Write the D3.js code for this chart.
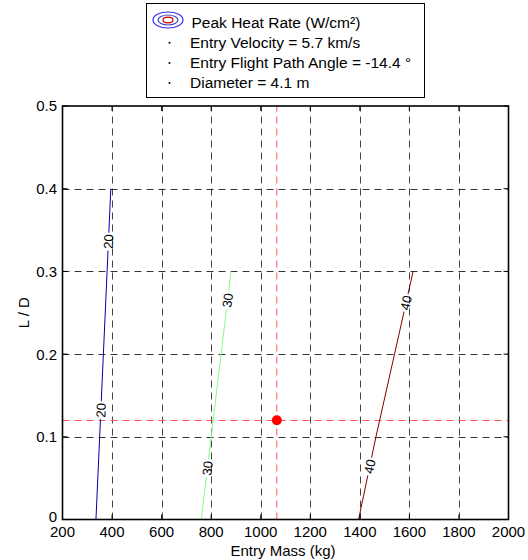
<!DOCTYPE html>
<html>
<head>
<meta charset="utf-8">
<script src="https://cdn.jsdelivr.net/npm/d3@7"></script>
<style>
  body { margin: 0; background: #fff; }
  svg { display: block; font-family: "Liberation Sans", Arial, sans-serif; }
</style>
</head>
<body>
<svg id="chart" width="528" height="560"></svg>
<script>
// ---- data ----
const xTicks = [200, 400, 600, 800, 1000, 1200, 1400, 1600, 1800, 2000];
const yTicks = [0, 0.1, 0.2, 0.3, 0.4, 0.5];
const yTickLabels = ["0", "0.1", "0.2", "0.3", "0.4", "0.5"];

const contour20LD   = [0, 0.1, 0.2, 0.3, 0.4];
const contour20Mass = [335, 350, 365, 380, 395];
const contour30LD   = [0, 0.1, 0.2, 0.3];
const contour30Mass = [760, 800, 840, 880];
const contour40LD   = [0, 0.1, 0.2, 0.3];
const contour40Mass = [1395, 1465, 1540, 1615];

const contourLevels = [20, 30, 40];
const contourColors = ["#0000a8", "#80ff80", "#800000"];
const contourLabelLD = [[0.132, 0.336], [0.062, 0.265], [0.064, 0.262]];

const designMass = 1065;
const designLD = 0.12;

const legendLines = [
  "Peak Heat Rate (W/cm²)",
  "Entry Velocity = 5.7 km/s",
  "Entry Flight Path Angle = -14.4 °",
  "Diameter = 4.1 m"
];

// ---- layout ----
const svg = d3.select("#chart");
const x = d3.scaleLinear().domain([200, 2000]).range([62.5, 508.5]);
const y = d3.scaleLinear().domain([0, 0.5]).range([519.5, 106]);
const dash = "7,5";
const fs = 15;

// grid
const grid = svg.append("g");
grid.selectAll(".vg").data(xTicks.slice(1, -1)).enter().append("line")
  .attr("x1", d => Math.round(x(d)) + 0.5).attr("x2", d => Math.round(x(d)) + 0.5)
  .attr("y1", y(0)).attr("y2", y(0.5))
  .attr("stroke", "#444").attr("stroke-dasharray", dash);
grid.selectAll(".hg").data(yTicks.slice(1, -1)).enter().append("line")
  .attr("y1", d => Math.round(y(d)) + 0.5).attr("y2", d => Math.round(y(d)) + 0.5)
  .attr("x1", x(200)).attr("x2", x(2000))
  .attr("stroke", "#333").attr("stroke-dasharray", dash);

// design point lines
svg.append("line")
  .attr("x1", x(designMass)).attr("x2", x(designMass))
  .attr("y1", y(0)).attr("y2", y(0.5))
  .attr("stroke", "#ff5555").attr("stroke-dasharray", dash);
svg.append("line")
  .attr("x1", x(200)).attr("x2", x(2000))
  .attr("y1", Math.round(y(designLD)) + 0.5).attr("y2", Math.round(y(designLD)) + 0.5)
  .attr("stroke", "#ff5555").attr("stroke-dasharray", dash);

// contours
const contours = [
  { level: contourLevels[0], ld: contour20LD, mass: contour20Mass },
  { level: contourLevels[1], ld: contour30LD, mass: contour30Mass },
  { level: contourLevels[2], ld: contour40LD, mass: contour40Mass }
];
const defs = svg.append("defs");
const mask = defs.append("mask").attr("id", "labelMask").attr("maskUnits", "userSpaceOnUse")
  .attr("x", 0).attr("y", 0).attr("width", 528).attr("height", 560);
mask.append("rect").attr("x", 0).attr("y", 0).attr("width", 528).attr("height", 560).attr("fill", "#fff");

const line = d3.line().x(d => x(d[0])).y(d => y(d[1]));
const cg = svg.append("g").attr("mask", "url(#labelMask)");
const lg = svg.append("g");

contours.forEach((c, i) => {
  const pts = c.mass.map((m, k) => [m, c.ld[k]]);
  cg.append("path").attr("d", line(pts)).attr("fill", "none")
    .attr("stroke", contourColors[i]).attr("stroke-width", 1);
  const interp = d3.scaleLinear().domain(c.ld).range(c.mass);
  contourLabelLD[i].forEach(ld => {
    const m = interp(ld);
    const px = x(m), py = y(ld);
    const p1 = [x(interp(ld - 0.02)), y(ld - 0.02)];
    const p2 = [x(interp(ld + 0.02)), y(ld + 0.02)];
    const ang = Math.atan2(p2[1] - p1[1], p2[0] - p1[0]) * 180 / Math.PI;
    mask.append("rect").attr("x", -9).attr("y", -5).attr("width", 18).attr("height", 10)
      .attr("fill", "#000")
      .attr("transform", `translate(${px},${py}) rotate(${ang})`);
    lg.append("text").attr("transform", `translate(${px},${py}) rotate(${ang})`)
      .attr("text-anchor", "middle").attr("dy", "0.36em")
      .attr("font-size", 13).attr("fill", "#000")
      .text(String(c.level));
  });
});

// design point
svg.append("circle").attr("cx", x(designMass)).attr("cy", y(designLD))
  .attr("r", 5).attr("fill", "#ff0000");

// axes box
svg.append("rect").attr("x", x(200)).attr("y", y(0.5))
  .attr("width", x(2000) - x(200)).attr("height", y(0) - y(0.5))
  .attr("fill", "none").attr("stroke", "#000").attr("stroke-width", 1.6);

// ticks (inward on all sides)
const tk = 5;
const ticks = svg.append("g").attr("stroke", "#000");
xTicks.forEach(t => {
  ticks.append("line").attr("x1", x(t)).attr("x2", x(t)).attr("y1", y(0)).attr("y2", y(0) - tk);
  ticks.append("line").attr("x1", x(t)).attr("x2", x(t)).attr("y1", y(0.5)).attr("y2", y(0.5) + tk);
});
yTicks.forEach(t => {
  ticks.append("line").attr("y1", y(t)).attr("y2", y(t)).attr("x1", x(200)).attr("x2", x(200) + tk);
  ticks.append("line").attr("y1", y(t)).attr("y2", y(t)).attr("x1", x(2000)).attr("x2", x(2000) - tk);
});

// tick labels
svg.append("g").selectAll("text").data(xTicks).enter().append("text")
  .attr("x", d => x(d)).attr("y", 537).attr("text-anchor", "middle")
  .attr("font-size", fs).text(d => d);
svg.append("g").selectAll("text").data(yTicks).enter().append("text")
  .attr("x", 57).attr("y", d => y(d) + (d === 0 ? 2.5 : 5.4)).attr("text-anchor", "end")
  .attr("font-size", fs).text((d, i) => yTickLabels[i]);

// axis titles
svg.append("text").attr("x", 283).attr("y", 556)
  .attr("text-anchor", "middle").attr("font-size", fs).text("Entry Mass (kg)");
svg.append("text").attr("transform", `translate(28.5,${(y(0) + y(0.5)) / 2}) rotate(-90)`)
  .attr("text-anchor", "middle").attr("font-size", fs).text("L / D");

// legend
const leg = svg.append("g");
leg.append("rect").attr("x", 146.5).attr("y", 3.5).attr("width", 278).attr("height", 94)
  .attr("fill", "#fff").attr("stroke", "#000").attr("stroke-width", 1);
leg.append("ellipse").attr("cx", 168).attr("cy", 20).attr("rx", 15).attr("ry", 8)
  .attr("fill", "none").attr("stroke", "#3030ff").attr("stroke-width", 1.2);
leg.append("ellipse").attr("cx", 168).attr("cy", 20).attr("rx", 10).attr("ry", 5)
  .attr("fill", "none").attr("stroke", "#4040c0").attr("stroke-width", 1.2);
leg.append("ellipse").attr("cx", 168).attr("cy", 20).attr("rx", 5).attr("ry", 2.8)
  .attr("fill", "none").attr("stroke", "#c00000").attr("stroke-width", 1.2);
legendLines.forEach((t, i) => {
  const cy = 22.7 + i * 20.1;
  if (i > 0) {
    leg.append("circle").attr("cx", 169.5).attr("cy", cy).attr("r", 1).attr("fill", "#000");
  }
  leg.append("text").attr("x", i === 0 ? 191.5 : 190).attr("y", cy + 5.4)
    .attr("font-size", 15.5).text(t);
});
</script>
</body>
</html>
